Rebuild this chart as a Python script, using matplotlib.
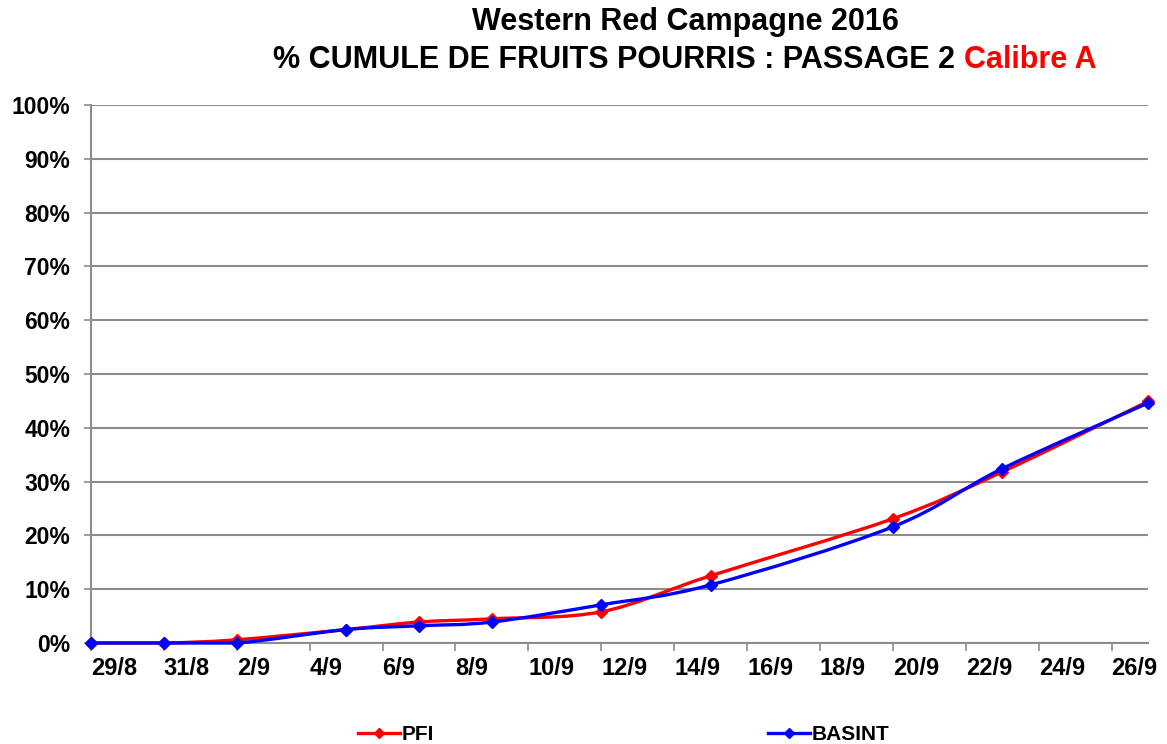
import numpy as np
import matplotlib
matplotlib.use("Agg")
import matplotlib.pyplot as plt
from matplotlib.path import Path
from matplotlib.patches import PathPatch
from matplotlib.lines import Line2D
import datetime as dt

plt.rcParams['font.family'] = ['Liberation Sans', 'DejaVu Sans']
plt.rcParams['font.weight'] = 'bold'

# ---- data ----
dates = ["2016-08-29", "2016-08-31", "2016-09-02", "2016-09-05", "2016-09-07",
         "2016-09-09", "2016-09-12", "2016-09-15", "2016-09-20", "2016-09-23",
         "2016-09-27"]
pfi = [0.0, 0.0, 0.6, 2.5, 3.9, 4.5, 5.8, 12.5, 23.1, 31.8, 44.9]
basint = [0.0, 0.0, 0.0, 2.5, 3.2, 3.9, 7.1, 10.8, 21.6, 32.4, 44.6]
tick_labels = ["29/8", "31/8", "2/9", "4/9", "6/9", "8/9", "10/9", "12/9",
               "14/9", "16/9", "18/9", "20/9", "22/9", "24/9", "26/9"]
y_ticks = [0, 10, 20, 30, 40, 50, 60, 70, 80, 90, 100]
title1 = "Western Red Campagne 2016"
title2a = "% CUMULE DE FRUITS POURRIS : PASSAGE 2 "
title2b = "Calibre A"

start = dt.date(2016, 8, 29)
xd = np.array([(dt.date.fromisoformat(d) - start).days for d in dates], float)
xticks = np.arange(0, 2 * len(tick_labels), 2)

W, H = 1167, 744
fig = plt.figure(figsize=(W / 100, H / 100), dpi=100)
ax = fig.add_axes([91 / W, 1 - 643 / H, (1148 - 91) / W, (643 - 105) / H])
ax.set_xlim(0, 29)
ax.set_ylim(0, 100)

grid_c = '#8c8c8c'
ax.set_yticks(y_ticks)
ax.set_yticklabels([f"{v}%" for v in y_ticks], fontsize=16.5, fontweight='bold')
ax.set_xticks(xticks)
ax.set_xticklabels(tick_labels, fontsize=17, fontweight='bold', ha='left')
ax.tick_params(axis='x', direction='out', length=6, color=grid_c, width=1.2, pad=4)
ax.tick_params(axis='y', direction='out', length=5, color=grid_c, width=1.2, pad=10)
ax.yaxis.grid(True, color=grid_c, linewidth=1.5)
ax.set_axisbelow(True)
for s in ['top', 'right']:
    ax.spines[s].set_visible(False)
for s in ['left', 'bottom']:
    ax.spines[s].set_color(grid_c)
    ax.spines[s].set_linewidth(1.5)

# Excel-style smoothed line (Bezier through data points)
sx = 1057 / 29.0
sy = 538 / 100.0

def smooth_path(x, y):
    px = np.asarray(x) * sx
    py = np.asarray(y) * sy
    n = len(px)
    verts = [(px[0], py[0])]
    codes = [Path.MOVETO]
    for i in range(n - 1):
        p0 = np.array([px[max(i - 1, 0)], py[max(i - 1, 0)]])
        p1 = np.array([px[i], py[i]])
        p2 = np.array([px[i + 1], py[i + 1]])
        p3 = np.array([px[min(i + 2, n - 1)], py[min(i + 2, n - 1)]])
        c1 = p1 + (p2 - p0) / 6.0
        c2 = p2 - (p3 - p1) / 6.0
        lo, hi = min(p1[1], p2[1]), max(p1[1], p2[1])
        c1[1] = np.clip(c1[1], lo, hi)
        c2[1] = np.clip(c2[1], lo, hi)
        verts += [tuple(c1), tuple(c2), tuple(p2)]
        codes += [Path.CURVE4] * 3
    verts = [(vx / sx, vy / sy) for vx, vy in verts]
    return Path(verts, codes)

for ys, col, z in [(pfi, '#ff0000', 3), (basint, '#0000ff', 4)]:
    ax.add_patch(PathPatch(smooth_path(xd, ys), fill=False, edgecolor=col,
                           linewidth=2.4, zorder=z, clip_on=False))
    ax.plot(xd, ys, linestyle='none', marker='D', markersize=6.5, color=col,
            zorder=z + 0.5, clip_on=False)

# Titles
fs_t = 22
fig.text(685 / W, 1 - 30 / H, title1, ha='center', va='baseline',
         fontsize=fs_t, fontweight='bold', color='black')
fig.canvas.draw()
r = fig.canvas.get_renderer()
ta = fig.text(0, 1 - 68 / H, title2a, ha='left', va='baseline', fontsize=fs_t,
              fontweight='bold', color='black')
tb = fig.text(0, 1 - 68 / H, title2b, ha='left', va='baseline', fontsize=fs_t,
              fontweight='bold', color='#ff0000')
wa = ta.get_window_extent(r).width
wb = tb.get_window_extent(r).width
x0 = 685 - (wa + wb) / 2
ta.set_x(x0 / W)
tb.set_x((x0 + wa) / W)

# Legend
h1 = Line2D([], [], color='#ff0000', marker='D', markersize=5, linewidth=2.4)
h2 = Line2D([], [], color='#0000ff', marker='D', markersize=5, linewidth=2.4)
leg1 = fig.legend([h1], ["PFI"], loc='center left', bbox_to_anchor=(358 / W, 1 - 735 / H),
                  frameon=False, fontsize=15, handlelength=2.0, handletextpad=0.1,
                  borderpad=0, borderaxespad=0)
leg2 = fig.legend([h2], ["BASINT"], loc='center left', bbox_to_anchor=(768 / W, 1 - 735 / H),
                  frameon=False, fontsize=15, handlelength=2.0, handletextpad=0.1,
                  borderpad=0, borderaxespad=0)
for lg in (leg1, leg2):
    for t in lg.get_texts():
        t.set_fontweight('bold')

fig.savefig("out.png", dpi=100)
